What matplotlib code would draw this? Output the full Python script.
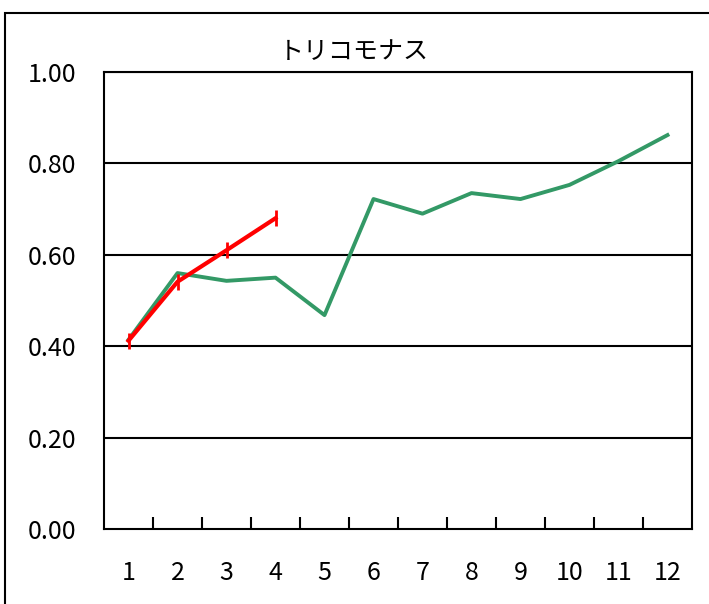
import matplotlib.pyplot as plt
from matplotlib.patches import Rectangle

plt.rcParams['font.family'] = ['Noto Sans CJK JP', 'DejaVu Sans']

# データ
months = [str(i) for i in range(1, 13)]
green_vals = [0.414, 0.560, 0.543, 0.550, 0.468, 0.722, 0.690, 0.735, 0.722, 0.753, 0.805, 0.862]
red_vals = [0.412, 0.541, 0.610, 0.680]
y_ticks = [0.0, 0.2, 0.4, 0.6, 0.8, 1.0]

fig = plt.figure(figsize=(7.09, 6.04), dpi=100)
fig.patches.append(Rectangle((5 / 709, -0.01), 1.0, 1 - 13 / 604 + 0.01,
                             transform=fig.transFigure, fill=False,
                             edgecolor='black', linewidth=1.5))

ax = fig.add_axes([104 / 709, 75 / 604, (692 - 104) / 709, (529 - 72) / 604])

x = list(range(len(months)))
ax.plot(x, green_vals, color='#339966', linewidth=2.8, zorder=3)
ax.plot(x[:len(red_vals)], red_vals, color='#ff0000', linewidth=3.0,
        marker='|', markersize=11, markeredgewidth=2, zorder=4)

ax.set_xlim(-0.5, 11.5)
ax.set_ylim(0, 1.0)
ax.set_yticks(y_ticks)
ax.set_yticklabels([f'{v:.2f}' for v in y_ticks])
ax.tick_params(axis='y', length=0, pad=20, labelsize=18)
for v in y_ticks[1:]:
    ax.axhline(v, color='black', linewidth=1.5, zorder=1)

ax.set_xticks(x)
ax.set_xticklabels(months)
ax.tick_params(axis='x', length=0, pad=22, labelsize=18)
ax.set_xticks([i + 0.5 for i in range(11)], minor=True)
ax.tick_params(axis='x', which='minor', direction='in', length=9, width=1.5)

for s in ax.spines.values():
    s.set_linewidth(1.5)

fig.text(354 / 709, 1 - 52 / 604, 'トリコモナス', fontsize=18,
         ha='center', va='center')

fig.savefig('out.png', dpi=100)
